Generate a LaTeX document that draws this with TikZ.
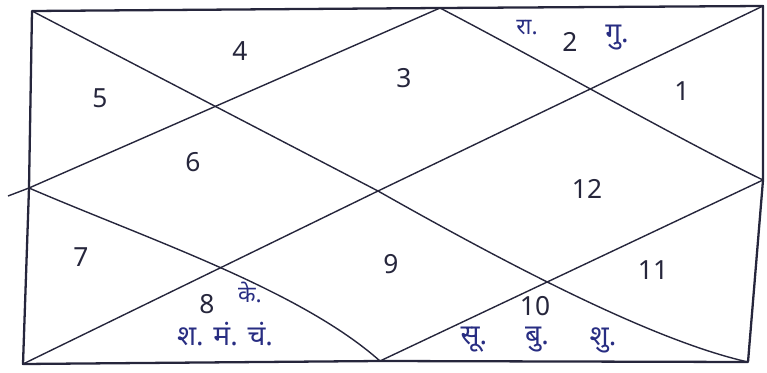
\documentclass[tikz,border=0pt]{standalone}
\usepackage{fontspec}
\setmainfont{Noto Sans}
\newfontfamily\deva[Script=Devanagari]{Noto Sans}
\usepackage{xcolor}
\usetikzlibrary{calc}
\definecolor{ink}{RGB}{38,38,60}
\definecolor{pen}{RGB}{40,45,130}
\tikzset{
  frame/.style={draw=ink,line width=1.3pt,line join=round},
  ln/.style={draw=ink,line width=0.8pt},
  num/.style={text=ink,font=\fontsize{15}{17}\selectfont,inner sep=1pt},
  gr/.style={text=pen,font=\deva\fontsize{16}{18}\selectfont,inner sep=1pt},
  grs/.style={text=pen,font=\deva\fontsize{13}{15}\selectfont,inner sep=1pt},
}
\begin{document}
\begin{tikzpicture}[x=0.02cm,y=-0.02cm]
  \useasboundingbox (0,0) rectangle (767,372);
  % corners and midpoints of the chart
  \coordinate (TL) at (32,11);  \coordinate (T) at (440,8);   \coordinate (TR) at (763,6);
  \coordinate (L) at (29,188);  \coordinate (C) at (378,191); \coordinate (R) at (763,180);
  \coordinate (BL) at (23,364); \coordinate (B) at (380,361); \coordinate (BR) at (748,362);
  \coordinate (Lt) at (8,196);
  \draw[frame] (TL)--(T)--(TR)--(R)--(BR)--(B)--(BL)--(L)--cycle;
  % diagonals
  \draw[ln] (TL)--(C) .. controls (500,260) and (650,340) .. (BR);
  \draw[ln] (BL)--(C)--(TR);
  % inner diamond
  \draw[ln] (T)--(L)--(Lt);
  \draw[ln] (L) .. controls (150,240) and (300,290) .. (B);
  \draw[ln] (B)--(R);
  \draw[ln] (R) .. controls (680,140) and (540,60) .. (T);
  % house numbers
  \node[num] (h1) at (682,91) {1};
  \node[num] (h2) at (570,42) {2};
  \node[num] (h3) at (404,78) {3};
  \node[num] (h4) at (240,51) {4};
  \node[num] (h5) at (100,98) {5};
  \node[num] (h6) at (193,162) {6};
  \node[num] (h7) at (81,257) {7};
  \node[num] (h8) at (207,304) {8};
  \node[num] (h9) at (391,264) {9};
  \node[num] (h10) at (535,306) {10};
  \node[num] (h11) at (653,270) {11};
  \node[num] (h12) at (587,189) {12};
  % planets
  \node[grs] (ra) at (527,28) {रा.};
  \node[gr] (gu) at (617,38) {गु.};
  \node[grs] (ke) at (250,292) {के.};
  \node[gr] (h8pl) at (225,334) {श. मं. चं.};
  \node[gr] (su) at (474,340) {सू.};
  \node[gr] (bu) at (537,340) {बु.};
  \node[gr] (shu) at (603,340) {शु.};
\end{tikzpicture}
\end{document}
